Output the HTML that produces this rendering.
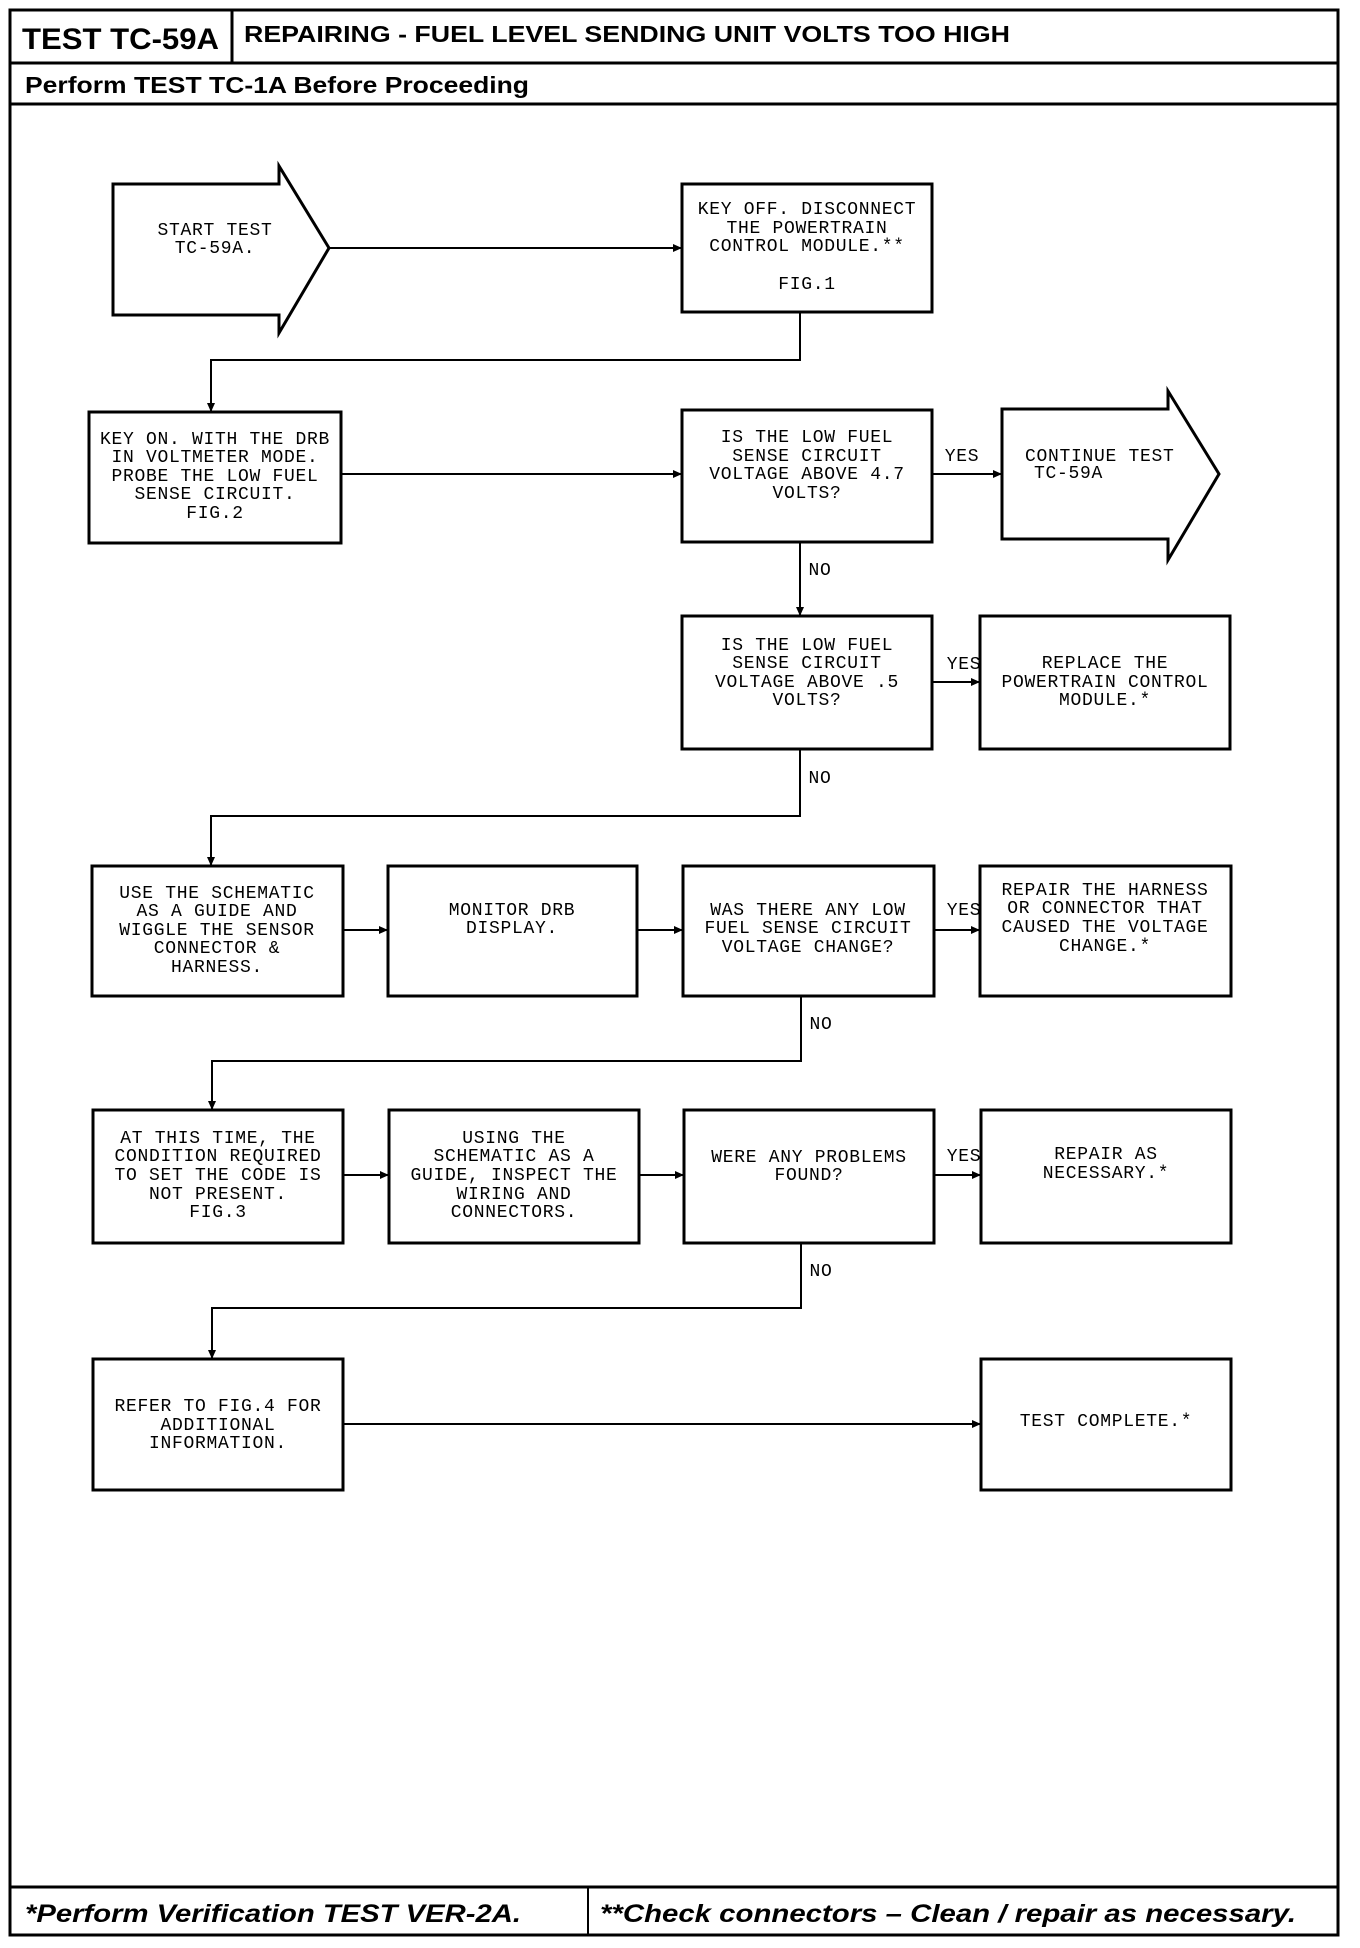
<!DOCTYPE html>
<html><head><meta charset="utf-8"><style>
html,body{margin:0;padding:0;background:#fff;}
svg{display:block;}
.t{font-family:"Liberation Mono",monospace;font-size:18px;letter-spacing:0.7px;fill:#000;text-anchor:middle;}
.h{font-family:"Liberation Sans",sans-serif;font-weight:bold;fill:#000;}
.f{font-family:"Liberation Sans",sans-serif;font-weight:bold;font-style:italic;fill:#000;font-size:25px;}
.b{fill:none;stroke:#000;stroke-width:3;}
.c{fill:none;stroke:#000;stroke-width:2;}
</style></head><body>
<svg width="1360" height="1948" viewBox="0 0 1360 1948" xmlns="http://www.w3.org/2000/svg">
<defs><marker id="a" markerWidth="10" markerHeight="10" refX="9" refY="5" orient="auto" markerUnits="userSpaceOnUse"><path d="M0,1 L9,5 L0,9 z" fill="#000"/></marker></defs>
<rect x="10" y="10" width="1328" height="1925" class="b" stroke-width="3.5"/>
<line x1="10" y1="63" x2="1338" y2="63" class="b"/>
<line x1="10" y1="104" x2="1338" y2="104" class="b"/>
<rect x="10" y="10" width="222" height="53" class="b"/>
<line x1="10" y1="1887" x2="1338" y2="1887" class="b"/>
<line x1="588" y1="1887" x2="588" y2="1935" class="c"/>
<text x="22" y="49" class="h" font-size="30" textLength="197" lengthAdjust="spacingAndGlyphs">TEST TC-59A</text>
<text x="244" y="42" class="h" font-size="23" textLength="766" lengthAdjust="spacingAndGlyphs">REPAIRING - FUEL LEVEL SENDING UNIT VOLTS TOO HIGH</text>
<text x="25" y="93" class="h" font-size="23" textLength="504" lengthAdjust="spacingAndGlyphs">Perform TEST TC-1A Before Proceeding</text>
<text x="25" y="1922" class="f" textLength="496" lengthAdjust="spacingAndGlyphs">*Perform Verification TEST VER-2A.</text>
<text x="600" y="1922" class="f" textLength="696" lengthAdjust="spacingAndGlyphs">**Check connectors – Clean / repair as necessary.</text>

<path d="M113,184 L279,184 L279,166 L329,248 L279,333 L279,315 L113,315 Z" class="b"/>
<text class="t"><tspan x="215" y="235">START TEST</tspan><tspan x="215" y="253">TC-59A.</tspan></text>
<line x1="329" y1="248" x2="682" y2="248" class="c" marker-end="url(#a)"/>

<rect x="682" y="184" width="250" height="128" class="b"/>
<text class="t"><tspan x="807" y="214">KEY OFF. DISCONNECT</tspan><tspan x="807" y="233">THE POWERTRAIN</tspan><tspan x="807" y="251">CONTROL MODULE.**</tspan><tspan x="807" y="289">FIG.1</tspan></text>
<path d="M800,312 V360 H211 V412" class="c" marker-end="url(#a)"/>

<rect x="89" y="412" width="252" height="131" class="b"/>
<text class="t"><tspan x="215" y="444">KEY ON. WITH THE DRB</tspan><tspan x="215" y="462">IN VOLTMETER MODE.</tspan><tspan x="215" y="481">PROBE THE LOW FUEL</tspan><tspan x="215" y="499">SENSE CIRCUIT.</tspan><tspan x="215" y="518">FIG.2</tspan></text>
<line x1="341" y1="474" x2="682" y2="474" class="c" marker-end="url(#a)"/>

<rect x="682" y="410" width="250" height="132" class="b"/>
<text class="t"><tspan x="807" y="442">IS THE LOW FUEL</tspan><tspan x="807" y="461">SENSE CIRCUIT</tspan><tspan x="807" y="479">VOLTAGE ABOVE 4.7</tspan><tspan x="807" y="498">VOLTS?</tspan></text>
<line x1="932" y1="474" x2="1002" y2="474" class="c" marker-end="url(#a)"/>
<text class="t" x="962" y="461">YES</text>

<path d="M1002,409 L1168,409 L1168,391 L1219,474 L1168,560 L1168,539 L1002,539 Z" class="b"/>
<text class="t" style="text-anchor:start"><tspan x="1025" y="461">CONTINUE TEST</tspan><tspan x="1034" y="478">TC-59A</tspan></text>

<line x1="800" y1="542" x2="800" y2="616" class="c" marker-end="url(#a)"/>
<text class="t" x="820" y="575">NO</text>

<rect x="682" y="616" width="250" height="133" class="b"/>
<text class="t"><tspan x="807" y="650">IS THE LOW FUEL</tspan><tspan x="807" y="668">SENSE CIRCUIT</tspan><tspan x="807" y="687">VOLTAGE ABOVE .5</tspan><tspan x="807" y="705">VOLTS?</tspan></text>
<line x1="932" y1="682" x2="980" y2="682" class="c" marker-end="url(#a)"/>
<text class="t" x="964" y="669">YES</text>
<rect x="980" y="616" width="250" height="133" class="b"/>
<text class="t"><tspan x="1105" y="668">REPLACE THE</tspan><tspan x="1105" y="687">POWERTRAIN CONTROL</tspan><tspan x="1105" y="705">MODULE.*</tspan></text>

<path d="M800,749 V816 H211 V866" class="c" marker-end="url(#a)"/>
<text class="t" x="820" y="783">NO</text>

<rect x="92" y="866" width="251" height="130" class="b"/>
<text class="t"><tspan x="217" y="898">USE THE SCHEMATIC</tspan><tspan x="217" y="916">AS A GUIDE AND</tspan><tspan x="217" y="935">WIGGLE THE SENSOR</tspan><tspan x="217" y="953">CONNECTOR &amp;</tspan><tspan x="217" y="972">HARNESS.</tspan></text>
<line x1="343" y1="930" x2="388" y2="930" class="c" marker-end="url(#a)"/>
<rect x="388" y="866" width="249" height="130" class="b"/>
<text class="t"><tspan x="512" y="915">MONITOR DRB</tspan><tspan x="512" y="933">DISPLAY.</tspan></text>
<line x1="637" y1="930" x2="683" y2="930" class="c" marker-end="url(#a)"/>
<rect x="683" y="866" width="251" height="130" class="b"/>
<text class="t"><tspan x="808" y="915">WAS THERE ANY LOW</tspan><tspan x="808" y="933">FUEL SENSE CIRCUIT</tspan><tspan x="808" y="952">VOLTAGE CHANGE?</tspan></text>
<line x1="934" y1="930" x2="980" y2="930" class="c" marker-end="url(#a)"/>
<text class="t" x="964" y="915">YES</text>
<rect x="980" y="866" width="251" height="130" class="b"/>
<text class="t"><tspan x="1105" y="895">REPAIR THE HARNESS</tspan><tspan x="1105" y="913">OR CONNECTOR THAT</tspan><tspan x="1105" y="932">CAUSED THE VOLTAGE</tspan><tspan x="1105" y="951">CHANGE.*</tspan></text>

<path d="M801,996 V1061 H212 V1110" class="c" marker-end="url(#a)"/>
<text class="t" x="821" y="1029">NO</text>

<rect x="93" y="1110" width="250" height="133" class="b"/>
<text class="t"><tspan x="218" y="1143">AT THIS TIME, THE</tspan><tspan x="218" y="1161">CONDITION REQUIRED</tspan><tspan x="218" y="1180">TO SET THE CODE IS</tspan><tspan x="218" y="1199">NOT PRESENT.</tspan><tspan x="218" y="1217">FIG.3</tspan></text>
<line x1="343" y1="1175" x2="389" y2="1175" class="c" marker-end="url(#a)"/>
<rect x="389" y="1110" width="250" height="133" class="b"/>
<text class="t"><tspan x="514" y="1143">USING THE</tspan><tspan x="514" y="1161">SCHEMATIC AS A</tspan><tspan x="514" y="1180">GUIDE, INSPECT THE</tspan><tspan x="514" y="1199">WIRING AND</tspan><tspan x="514" y="1217">CONNECTORS.</tspan></text>
<line x1="639" y1="1175" x2="684" y2="1175" class="c" marker-end="url(#a)"/>
<rect x="684" y="1110" width="250" height="133" class="b"/>
<text class="t"><tspan x="809" y="1162">WERE ANY PROBLEMS</tspan><tspan x="809" y="1180">FOUND?</tspan></text>
<line x1="934" y1="1175" x2="981" y2="1175" class="c" marker-end="url(#a)"/>
<text class="t" x="964" y="1161">YES</text>
<rect x="981" y="1110" width="250" height="133" class="b"/>
<text class="t"><tspan x="1106" y="1159">REPAIR AS</tspan><tspan x="1106" y="1178">NECESSARY.*</tspan></text>

<path d="M801,1243 V1308 H212 V1359" class="c" marker-end="url(#a)"/>
<text class="t" x="821" y="1276">NO</text>

<rect x="93" y="1359" width="250" height="131" class="b"/>
<text class="t"><tspan x="218" y="1411">REFER TO FIG.4 FOR</tspan><tspan x="218" y="1430">ADDITIONAL</tspan><tspan x="218" y="1448">INFORMATION.</tspan></text>
<line x1="343" y1="1424" x2="981" y2="1424" class="c" marker-end="url(#a)"/>
<rect x="981" y="1359" width="250" height="131" class="b"/>
<text class="t" x="1106" y="1426">TEST COMPLETE.*</text>
</svg>
</body></html>
